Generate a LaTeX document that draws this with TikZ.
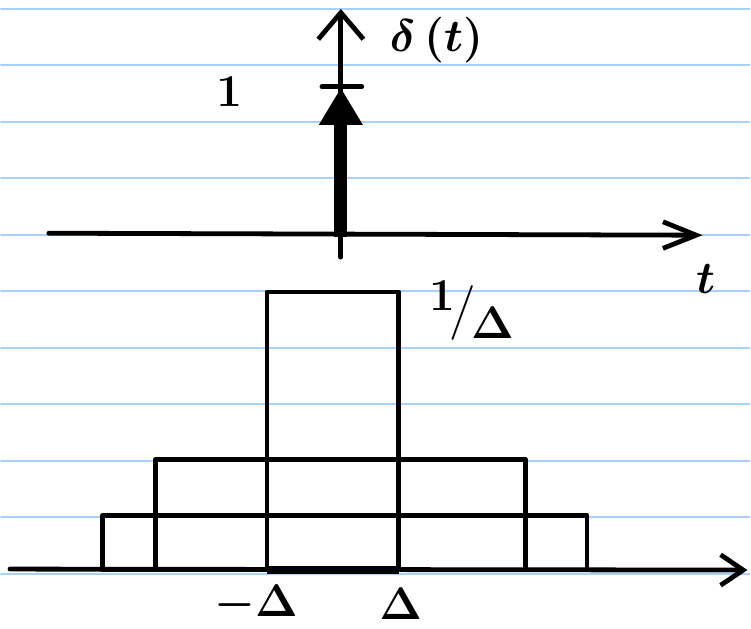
\documentclass[tikz,border=0pt]{standalone}
\usepackage{amsmath,amssymb}
\usepackage{graphicx}
\usetikzlibrary{arrows.meta}
\definecolor{ruled}{HTML}{A9D1F7}
\definecolor{ink}{HTML}{000000}
\newcommand{\handtxt}[1]{\scalebox{1.38}{\Huge\boldmath #1}}

\begin{document}
\begin{tikzpicture}[x=0.75pt, y=-0.75pt, line width=3.6pt, line cap=round, line join=round,
  hand/.style={text=ink, inner sep=0pt},
  ink line/.style={draw=ink, line width=3.6pt}]

% Paper
\fill[white] (0,0) rectangle (751,631);
\foreach \k in {0,...,10}
  \draw[ruled, line width=1.5pt] (0,{9+56.65*\k}) -- (751,{9+56.65*\k});

% --- Top plot: the impulse ---
\coordinate (tl) at (48,234);
\coordinate (tr) at (704,236);
\coordinate (vb) at (341,258);
\coordinate (vt) at (341,9);
\draw[ink line, -{Straight Barb[length=25pt, width=20pt, line width=3.6pt]}] (tl) -- (tr);
\draw[ink line, -{Straight Barb[length=20pt, width=34pt, line width=3.6pt]}] (vb) -- (vt);

% impulse arrow and its height mark
\coordinate (ib) at (341,238);
\coordinate (ip) at (341,88);
\draw[ink, line width=10pt, line cap=butt, -{Triangle[length=28pt, width=31pt]}] (ib) -- (ip);
\draw[ink line] (322,87) -- (362,87);

\node[hand] (one) at (229,92) {\handtxt{$1$}};
\node[hand] (delta) at (437,40) {\handtxt{$\delta\,(t)$}};
\node[hand] (tlab) at (707,280) {\handtxt{$t$}};

% --- Bottom plot: the pulses ---
\coordinate (bl) at (9,571);
\coordinate (br) at (749,572);
\draw[ink line] (155,572) rectangle (526,461);
\draw[ink line] (102,572) rectangle (588,517);
\draw[ink line] (267,572) rectangle (399,293);
\draw[ink line, -{Straight Barb[length=17pt, width=23pt, line width=3.6pt]}] (bl) -- (br);
\draw[ink, line width=6.5pt, line cap=butt] (267,572) -- (399,572);

\node[hand] (height) at (472,312)
  {\handtxt{\raisebox{0.3em}{$1$}\kern-0.12em$\big/$\kern-0.1em\raisebox{-0.3em}{$\Delta$}}};
\node[hand] (mdelta) at (256,606) {\handtxt{$-\Delta$}};
\node[hand] (pdelta) at (401,606) {\handtxt{$\Delta$}};

\end{tikzpicture}
\end{document}
